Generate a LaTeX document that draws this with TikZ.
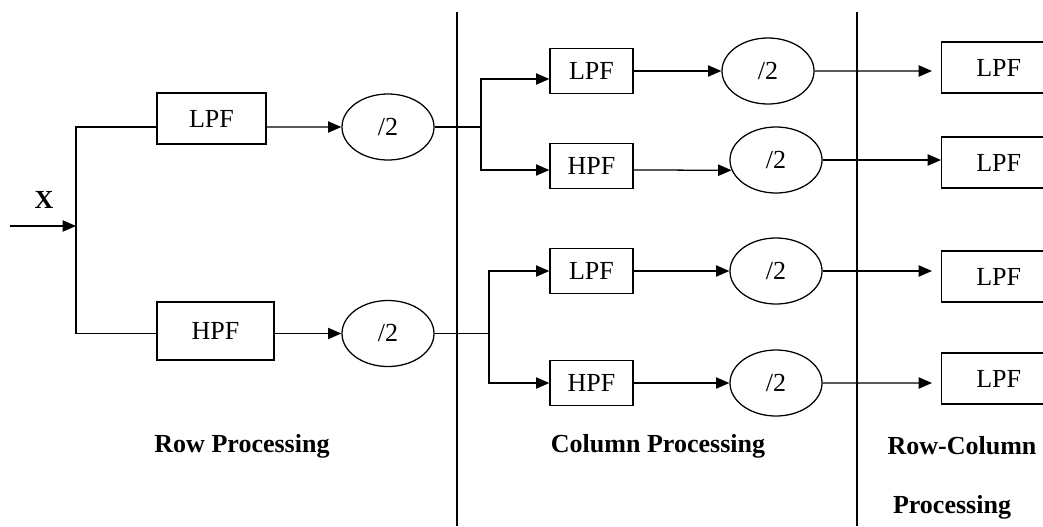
\documentclass[tikz,border=0pt]{standalone}
\usepackage{fontspec}
\setmainfont{Liberation Serif}
\usetikzlibrary{shapes.geometric, arrows.meta, calc}
\tikzstyle{rowbox} = [rectangle, minimum width=2.725cm, minimum height=1.275cm, inner sep=0pt, text centered, draw=black, line width=0.9pt]
\tikzstyle{colbox} = [rectangle, minimum width=2.075cm, minimum height=1.125cm, inner sep=0pt, text centered, draw=black, line width=0.9pt]
\tikzstyle{outbox} = [rectangle, minimum width=2.85cm, minimum height=1.275cm, inner sep=0pt, text centered, draw=black, line width=0.9pt]
\tikzstyle{down} = [ellipse, minimum width=2.3cm, minimum height=1.65cm, inner sep=0pt, draw=black, line width=0.9pt]
\tikzstyle{wire} = [line width=0.9pt]
\tikzstyle{arrow} = [line width=0.9pt, -{Triangle[length=9.5pt,width=8pt]}]
\tikzstyle{phase} = [font=\fontsize{18.5}{22}\selectfont\bfseries]
\begin{document}
\begin{tikzpicture}[x=0.025cm, y=-0.025cm, font=\fontsize{18.5}{22}\selectfont]
\useasboundingbox (0,0) rectangle (1043,526);

% row processing
\coordinate (xin) at (10,226);
\coordinate (split) at (76,226);
\node (xlab) [phase] at (44,200) {X};
\node (rl) [rowbox] at (211.5,118.5) {LPF};
\node (rh) [rowbox, minimum width=2.925cm, minimum height=1.45cm] at (215.5,331) {HPF};
\node (e1) [down] at (388,127) {/2};
\node (e2) [down] at (388,333.5) {/2};

\draw [arrow] (xin) -- (split);
\draw [wire] (split) |- ($(rl.west)+(0,8.5)$);
\draw [wire] (split) |- ($(rh.west)+(0,2.5)$);
\draw [arrow] ($(rl.east)+(0,8.5)$) -- (e1.west);
\draw [arrow] ($(rh.east)+(0,2.5)$) -- (e2.west);

% section borders
\draw [wire] (457,12) -- (457,526);
\draw [wire] (857,12) -- (857,526);

% column processing
\coordinate (j1) at (481,127);
\coordinate (j2) at (489,333.5);
\node (cl1) [colbox] at (591.5,71) {LPF};
\node (ch1) [colbox] at (591.5,166) {HPF};
\node (cl2) [colbox] at (591.5,271) {LPF};
\node (ch2) [colbox] at (591.5,383) {HPF};
\node (e3) [down] at (768,71) {/2};
\node (e4) [down] at (776,160) {/2};
\node (e5) [down] at (776,271) {/2};
\node (e6) [down] at (776,383) {/2};

\draw [wire] (e1.east) -- (j1);
\draw [wire] (e2.east) -- (j2);
\draw [arrow] (j1) |- ($(cl1.west)+(0,8)$);
\draw [arrow] (j1) |- ($(ch1.west)+(0,4)$);
\draw [arrow] (j2) |- (cl2.west);
\draw [arrow] (j2) |- (ch2.west);
\draw [arrow] (cl1.east) -- (e3.west);
\draw [arrow] ($(ch1.east)+(0,4)$) -- (e4.193);
\draw [arrow] (cl2.east) -- (e5.west);
\draw [arrow] (ch2.east) -- (e6.west);

% row-column processing
\node (rr1) [outbox, anchor=west] at (941,67.5) {LPF};
\node (rr2) [outbox, anchor=west] at (941,162.5) {LPF};
\node (rr3) [outbox, anchor=west] at (941,276.5) {LPF};
\node (rr4) [outbox, anchor=west] at (941,378.5) {LPF};

\draw [arrow, shorten >=0.225cm] (e3.east) -- ($(rr1.west)+(0,3.5)$);
\draw [arrow] (e4.east) -- ($(rr2.west)+(0,-2.5)$);
\draw [arrow, shorten >=0.225cm] (e5.east) -- ($(rr3.west)+(0,-5.5)$);
\draw [arrow, shorten >=0.225cm] (e6.east) -- ($(rr4.west)+(0,4.5)$);

% section titles
\node (trow) [phase] at (242,446) {Row Processing};
\node (tcol) [phase] at (658,446) {Column Processing};
\node (trc1) [phase] at (962,446) {Row-Column};
\node (trc2) [phase] at (952,507) {Processing};
\end{tikzpicture}
\end{document}
